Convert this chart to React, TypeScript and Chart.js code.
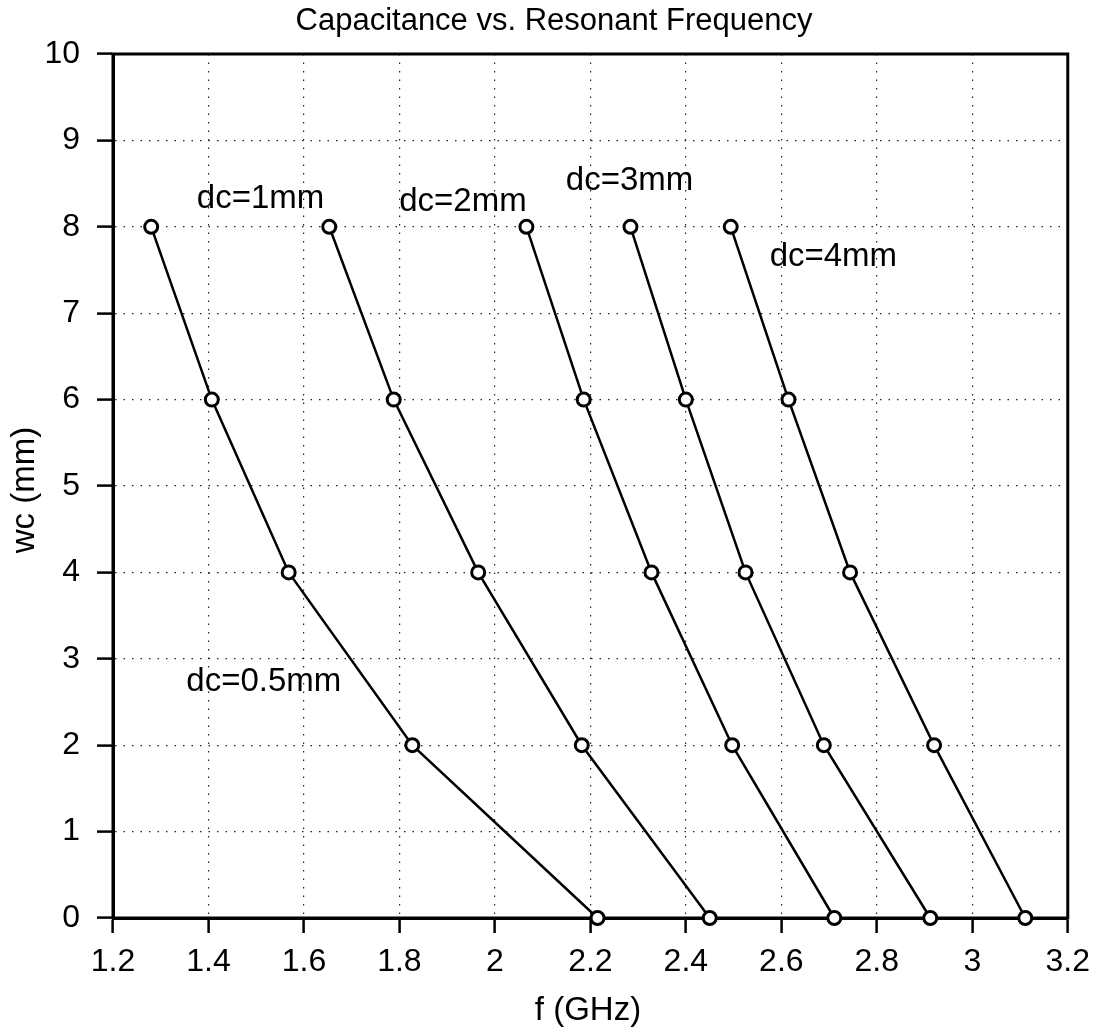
import React, { useEffect, useRef } from "react";
import { Chart, registerables } from "chart.js";

Chart.register(...registerables);

// wc (mm) values, common to every series
const wcValues = [8, 6, 4, 2, 0];
// resonant frequency f (GHz) per series
const seriesNames = ["dc=0.5mm", "dc=1mm", "dc=2mm", "dc=3mm", "dc=4mm"];
const fDc05 = [1.28, 1.407, 1.568, 1.827, 2.215];
const fDc1 = [1.653, 1.788, 1.965, 2.182, 2.45];
const fDc2 = [2.066, 2.186, 2.328, 2.497, 2.711];
const fDc3 = [2.284, 2.4, 2.525, 2.689, 2.912];
const fDc4 = [2.494, 2.615, 2.744, 2.92, 3.111];
// annotation anchor positions (data coords)
const labelX = [1.516, 1.509, 1.933, 2.282, 2.709];
const labelY = [2.73, 8.32, 8.29, 8.53, 7.65];
// ticks
const xTicks = [1.2, 1.4, 1.6, 1.8, 2, 2.2, 2.4, 2.6, 2.8, 3, 3.2];
const yTicks = [0, 1, 2, 3, 4, 5, 6, 7, 8, 9, 10];

const titleText = "Capacitance vs. Resonant Frequency";
const xTitle = "f (GHz)";
const yTitle = "wc (mm)";

const FONT = "'Liberation Sans', Arial, Helvetica, sans-serif";

export default function App() {
  const ref = useRef<HTMLCanvasElement | null>(null);

  useEffect(() => {
    if (!ref.current) return;
    const allF = [fDc05, fDc1, fDc2, fDc3, fDc4];
    const datasets = allF.map((fs, i) => ({
      label: seriesNames[i],
      data: fs.map((f, j) => ({ x: f, y: wcValues[j] })),
      borderColor: "#000",
      backgroundColor: "#fff",
      borderWidth: 2.5,
      pointRadius: 6.5,
      pointBorderWidth: 3,
      pointBorderColor: "#000",
      pointBackgroundColor: "#fff",
      pointStyle: "circle",
      tension: 0,
      clip: false as any,
      showLine: true,
    }));

    const overlay = {
      id: "overlay",
      beforeDatasetsDraw(chart: any) {
        const { ctx, chartArea: a } = chart;
        ctx.save();
        ctx.setLineDash([]);
        ctx.strokeStyle = "#000";
        ctx.lineWidth = 3;
        ctx.strokeRect(a.left, a.top, a.right - a.left, a.bottom - a.top);
        ctx.restore();
      },
      afterDraw(chart: any) {
        const { ctx, scales } = chart;
        ctx.save();
        ctx.fillStyle = "#000";
        // title
        ctx.font = `31px ${FONT}`;
        ctx.textAlign = "center";
        ctx.textBaseline = "alphabetic";
        ctx.fillText(titleText, 554, 30);
        // x axis title
        ctx.font = `33px ${FONT}`;
        ctx.textBaseline = "middle";
        ctx.fillText(xTitle, 588, 1011);
        // y axis title
        ctx.save();
        ctx.translate(25, 490);
        ctx.rotate(-Math.PI / 2);
        ctx.fillText(yTitle, 0, 0);
        ctx.restore();
        // series annotations
        ctx.font = `33px ${FONT}`;
        ctx.textAlign = "center";
        ctx.textBaseline = "middle";
        seriesNames.forEach((name, i) => {
          const px = scales.x.getPixelForValue(labelX[i]);
          const py = scales.y.getPixelForValue(labelY[i]);
          ctx.fillText(name, px, py);
        });
        ctx.restore();
      },
    };

    const gridOpts: any = {
      color: "#222",
      lineWidth: 1.2,
      tickColor: "#000",
      tickWidth: 2.5,
      tickBorderDash: [],
    };

    const chart = new Chart(ref.current, {
      type: "scatter",
      data: { datasets: datasets as any },
      options: {
        responsive: false,
        animation: false,
        devicePixelRatio: 1,
        layout: { padding: { top: 54, right: 32, left: 0, bottom: 0 } },
        plugins: {
          legend: { display: false },
          title: { display: false },
          tooltip: { enabled: false },
        },
        scales: {
          x: {
            type: "linear",
            min: 1.2,
            max: 3.2,
            afterFit: (s: any) => {
              s.height = 116;
            },
            afterBuildTicks: (s: any) => {
              s.ticks = xTicks.map((v) => ({ value: v }));
            },
            ticks: {
              color: "#000",
              font: { family: FONT, size: 32 },
              padding: 10,
              maxRotation: 0,
              autoSkip: false,
              callback: (v: any) => String(Math.round(Number(v) * 10) / 10),
            },
            grid: { ...gridOpts, tickLength: 15 },
            border: { display: true, color: "#000", width: 3, dash: [1.5, 7] } as any,
          },
          y: {
            type: "linear",
            min: 0,
            max: 10,
            afterFit: (s: any) => {
              s.width = 113;
            },
            afterBuildTicks: (s: any) => {
              s.ticks = yTicks.map((v) => ({ value: v }));
            },
            ticks: {
              color: "#000",
              font: { family: FONT, size: 32 },
              padding: 17,
              autoSkip: false,
              callback: (v: any) => String(v),
            },
            grid: { ...gridOpts, tickLength: 16 },
            border: { display: true, color: "#000", width: 3, dash: [1.5, 7] } as any,
          },
        },
      },
      plugins: [overlay],
    });

    return () => chart.destroy();
  }, []);

  return (
    <div
      style={{
        position: "fixed",
        left: 0,
        top: 0,
        width: 1100,
        height: 1034,
        background: "#fff",
      }}
    >
      <canvas ref={ref} width={1100} height={1034} style={{ width: 1100, height: 1034 }} />
    </div>
  );
}
